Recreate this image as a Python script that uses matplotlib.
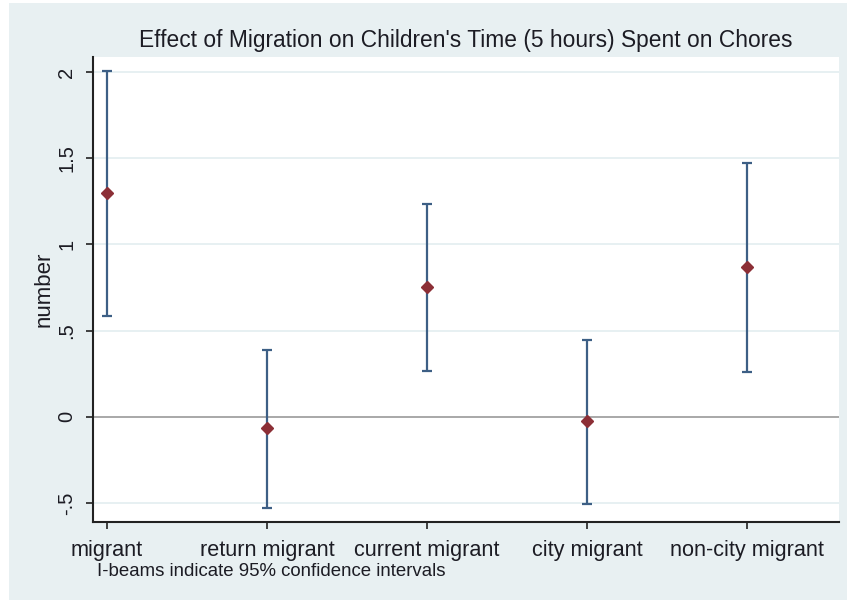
import matplotlib.pyplot as plt
import numpy as np
from matplotlib.patches import Rectangle

plt.rcParams['font.family'] = ['Liberation Sans', 'DejaVu Sans']

categories = ['migrant', 'return migrant', 'current migrant', 'city migrant', 'non-city migrant']
estimates = [1.30, -0.065, 0.752, -0.025, 0.868]
ci_low = [0.585, -0.530, 0.268, -0.505, 0.260]
ci_high = [2.005, 0.388, 1.232, 0.448, 1.470]
yticks = [-0.5, 0, 0.5, 1, 1.5, 2]
ytick_labels = ['-.5', '0', '.5', '1', '1.5', '2']

bg = '#e8f0f2'
grid_col = '#e3edf0'
bar_col = '#3d5f85'
pt_col = '#8c2f36'
txt = '#1c1c24'

fig = plt.figure(figsize=(8.52, 6), dpi=100, facecolor='white')
fig.patches.append(Rectangle((9 / 852, 0), 838 / 852, 597 / 600, transform=fig.transFigure,
                             facecolor=bg, edgecolor='none', zorder=-10))
ax = fig.add_axes([93 / 852, 1 - 522 / 600, 746 / 852, 465 / 600])
ax.set_facecolor('white')

x = np.arange(1, len(categories) + 1)
est = np.array(estimates)
lo = est - np.array(ci_low)
hi = np.array(ci_high) - est

for y in yticks:
    if y == 0:
        ax.axhline(y, color='#9a9a9a', lw=1.2, zorder=1)
    else:
        ax.axhline(y, color=grid_col, lw=1.2, zorder=1)

ax.errorbar(x, est, yerr=[lo, hi], fmt='none', ecolor=bar_col, elinewidth=1.6,
            capsize=3.4, capthick=1.6, zorder=3)
ax.plot(x, est, 'D', color=pt_col, markersize=6, zorder=4)

ax.set_xlim(0.912, 5.575)
ax.set_ylim(-0.61, 2.087)
ax.set_xticks(x)
ax.set_xticklabels(categories, fontsize=15.6, color=txt)
ax.set_yticks(yticks)
ax.set_yticklabels(ytick_labels, fontsize=14.5, color=txt, rotation=90, va='center')
ax.tick_params(axis='both', direction='out', length=5, width=1.2, color='#222222')
ax.tick_params(axis='x', pad=8)
ax.tick_params(axis='y', pad=7)

for s in ['top', 'right']:
    ax.spines[s].set_visible(False)
for s in ['left', 'bottom']:
    ax.spines[s].set_color('#222222')
    ax.spines[s].set_linewidth(1.5)

ax.set_ylabel('number', fontsize=16, color=txt, labelpad=2)
fig.text(466 / 852, 1 - 40 / 600, "Effect of Migration on Children's Time (5 hours) Spent on Chores",
         ha='center', va='center', fontsize=16.4, color=txt)
fig.text(97 / 852, 1 - 572 / 600, 'I-beams indicate 95% confidence intervals',
         ha='left', va='center', fontsize=13.4, color=txt)

fig.savefig('out.png', dpi=100, facecolor=fig.get_facecolor())
